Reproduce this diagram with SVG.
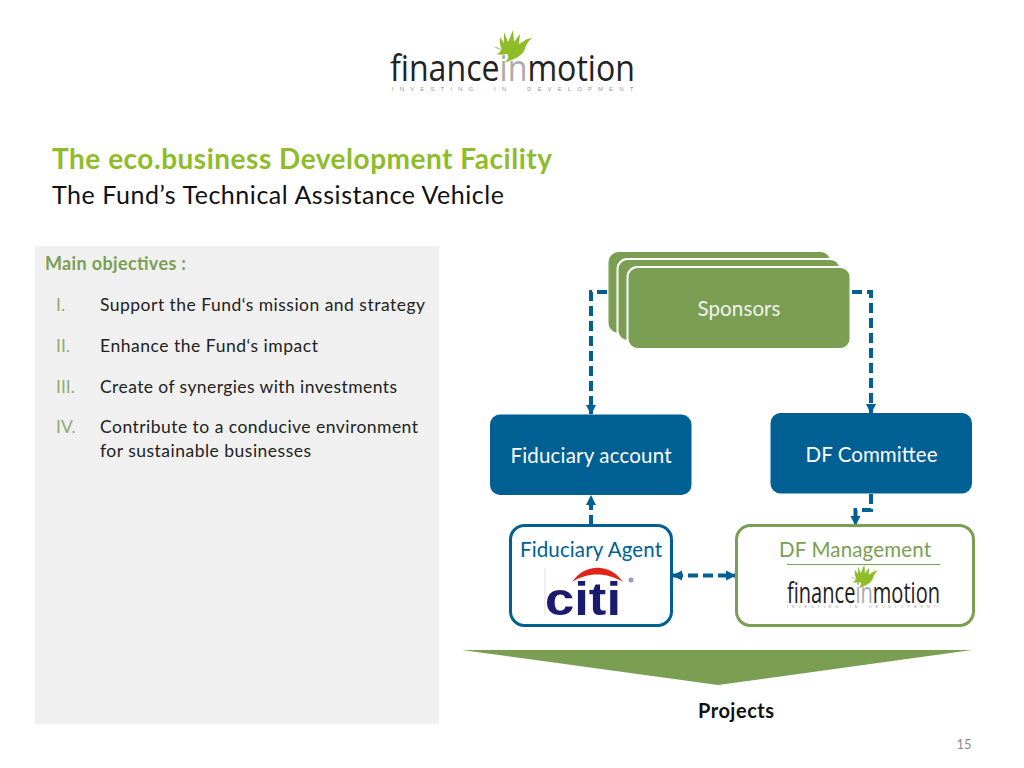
<svg xmlns="http://www.w3.org/2000/svg" width="1024" height="768" viewBox="0 0 1024 768">
<style>
text{font-family:Lato,"Liberation Sans",sans-serif}
.g{fill:#7a9f52}
.b{fill:#006094}
.conn{fill:none;stroke:#006094;stroke-width:4;stroke-dasharray:10 5}
.obj{font-size:17.500px;fill:#222}
.num{font-size:17.500px;fill:#8fab72}
.w{fill:#fff;font-size:20.500px;text-anchor:middle}
.logo{font-family:"Open Sans","Liberation Sans",sans-serif;fill:#222}
.tag{font-family:"Liberation Sans",sans-serif;fill:#999}
</style>
<defs>
<marker id="ah" viewBox="0 0 10 10" refX="9" refY="5" markerWidth="2.600" markerHeight="2.600" orient="auto-start-reverse"><path d="M0 0L10 5L0 10Z" fill="#006094"/></marker>
<g id="feather">
<path d="M0 0C-6-3-8-10-7-17L-3-11L-3-22L1-12L6-24L7-12L13-20L12-10C16-12 20-16 25-16C21-13 19-9 18-5C15 2 7 6-2 8C2 4 2 2 0 0C-3 1-7 1-11 0C-8-1-5-2-7-5C-9-5-11-6-13-7C-9-7-6-5-3-3Z" fill="#8fbc2a"/>
</g>
</defs>
<rect width="1024" height="768" fill="#fff"/>
<g id="logo">
<use href="#feather" transform="translate(507 54)"/>
<text class="logo" x="390" y="81" font-size="36" textLength="245" lengthAdjust="spacingAndGlyphs">finance<tspan fill="#aaa">in</tspan>motion</text>
<text class="tag" x="392" y="91" font-size="6" word-spacing="7" letter-spacing="6.100">INVESTING IN DEVELOPMENT</text>
</g>
<g id="title">
<text x="52" y="169" font-size="28" font-weight="700" fill="#8fbc2a" textLength="500">The eco.business Development Facility</text>
<text x="52" y="204" font-size="25" fill="#111" textLength="452">The Fund’s Technical Assistance Vehicle</text>
</g>
<g id="objectives">
<rect x="35" y="246" width="404" height="478" fill="#f0f0f0"/>
<text x="45" y="270" font-size="18" font-weight="700" fill="#7a9f52" textLength="141">Main objectives :</text>
<text class="num" x="56" y="311">I.</text><text class="obj" x="100" y="311" textLength="325">Support the Fund‘s mission and strategy</text>
<text class="num" x="56" y="352">II.</text><text class="obj" x="100" y="352" textLength="218">Enhance the Fund‘s impact</text>
<text class="num" x="56" y="393">III.</text><text class="obj" x="100" y="393" textLength="297">Create of synergies with investments</text>
<text class="num" x="56" y="433">IV.</text><text class="obj" x="100" y="433" textLength="318">Contribute to a conducive environment</text>
<text class="obj" x="100" y="457" textLength="211">for sustainable businesses</text>
</g>
<g id="connectors">
<path class="conn" d="M607 292H591V414" marker-end="url(#ah)"/>
<path class="conn" d="M852 292H871V413" marker-end="url(#ah)"/>
<path class="conn" d="M591 525V496" marker-end="url(#ah)"/>
<path class="conn" d="M871 494V510H855.500V525" marker-end="url(#ah)"/>
<path class="conn" d="M673 575.500H735" marker-start="url(#ah)" marker-end="url(#ah)"/>
</g>
<g id="sponsors">
<rect x="608.500" y="252" width="222" height="81" rx="10" class="g"/>
<rect x="617.500" y="259" width="223" height="82" rx="10" class="g" stroke="#fff" stroke-width="2"/>
<rect x="627.500" y="267" width="223" height="82" rx="10" class="g" stroke="#fff" stroke-width="2"/>
<text x="739" y="316" font-size="20.500" fill="#f2f2f2" text-anchor="middle" textLength="83">Sponsors</text>
</g>
<g id="fiduciary-account">
<rect x="490" y="414.500" width="201.500" height="80.500" rx="10" class="b"/>
<text class="w" x="591" y="462.500" textLength="161">Fiduciary account</text>
</g>
<g id="df-committee">
<rect x="770.500" y="413" width="201.500" height="80.500" rx="10" class="b"/>
<text class="w" x="871.500" y="461.500" textLength="132">DF Committee</text>
</g>
<g id="fiduciary-agent">
<rect x="510.500" y="525.500" width="161" height="100" rx="14" fill="#fff" stroke="#006094" stroke-width="3"/>
<text x="591" y="557" font-size="20.500" fill="#006094" text-anchor="middle" textLength="142">Fiduciary Agent</text>
<path d="M545 568V615" stroke="#ddd" stroke-width="1"/>
<path d="M572 582C585 563 610 563 623 582C607 572 587 572 572 582Z" fill="#e2231a"/>
<text x="545" y="615" font-size="46" font-weight="700" fill="#1a1a6e" style="font-family:'Liberation Sans',sans-serif" textLength="76" lengthAdjust="spacingAndGlyphs">citi</text>
<circle cx="631" cy="580" r="2.500" fill="#9a9ac8"/>
</g>
<g id="df-management">
<rect x="736.500" y="525.500" width="237" height="100" rx="14" fill="#fff" stroke="#7a9f52" stroke-width="3"/>
<text x="855" y="557" font-size="20.500" fill="#7a9f52" text-anchor="middle" textLength="152">DF Management</text>
<path d="M787 564.500H940" stroke="#7a9f52" stroke-width="1"/>
<use href="#feather" transform="translate(860 582) scale(.72)"/>
<text class="logo" x="787" y="603" font-size="29" textLength="153" lengthAdjust="spacingAndGlyphs">finance<tspan fill="#aaa">in</tspan>motion</text>
<text class="tag" x="787" y="608" font-size="3.500" word-spacing="3" letter-spacing="4">INVESTING IN DEVELOPMENT</text>
</g>
<g id="projects">
<path d="M462 650H972L718 685Z" class="g"/>
<text x="736" y="718" font-size="20" font-weight="700" fill="#111" text-anchor="middle" textLength="76">Projects</text>
</g>
<text x="964" y="749" font-size="13" fill="#8c8c8c" text-anchor="middle">15</text>
</svg>
